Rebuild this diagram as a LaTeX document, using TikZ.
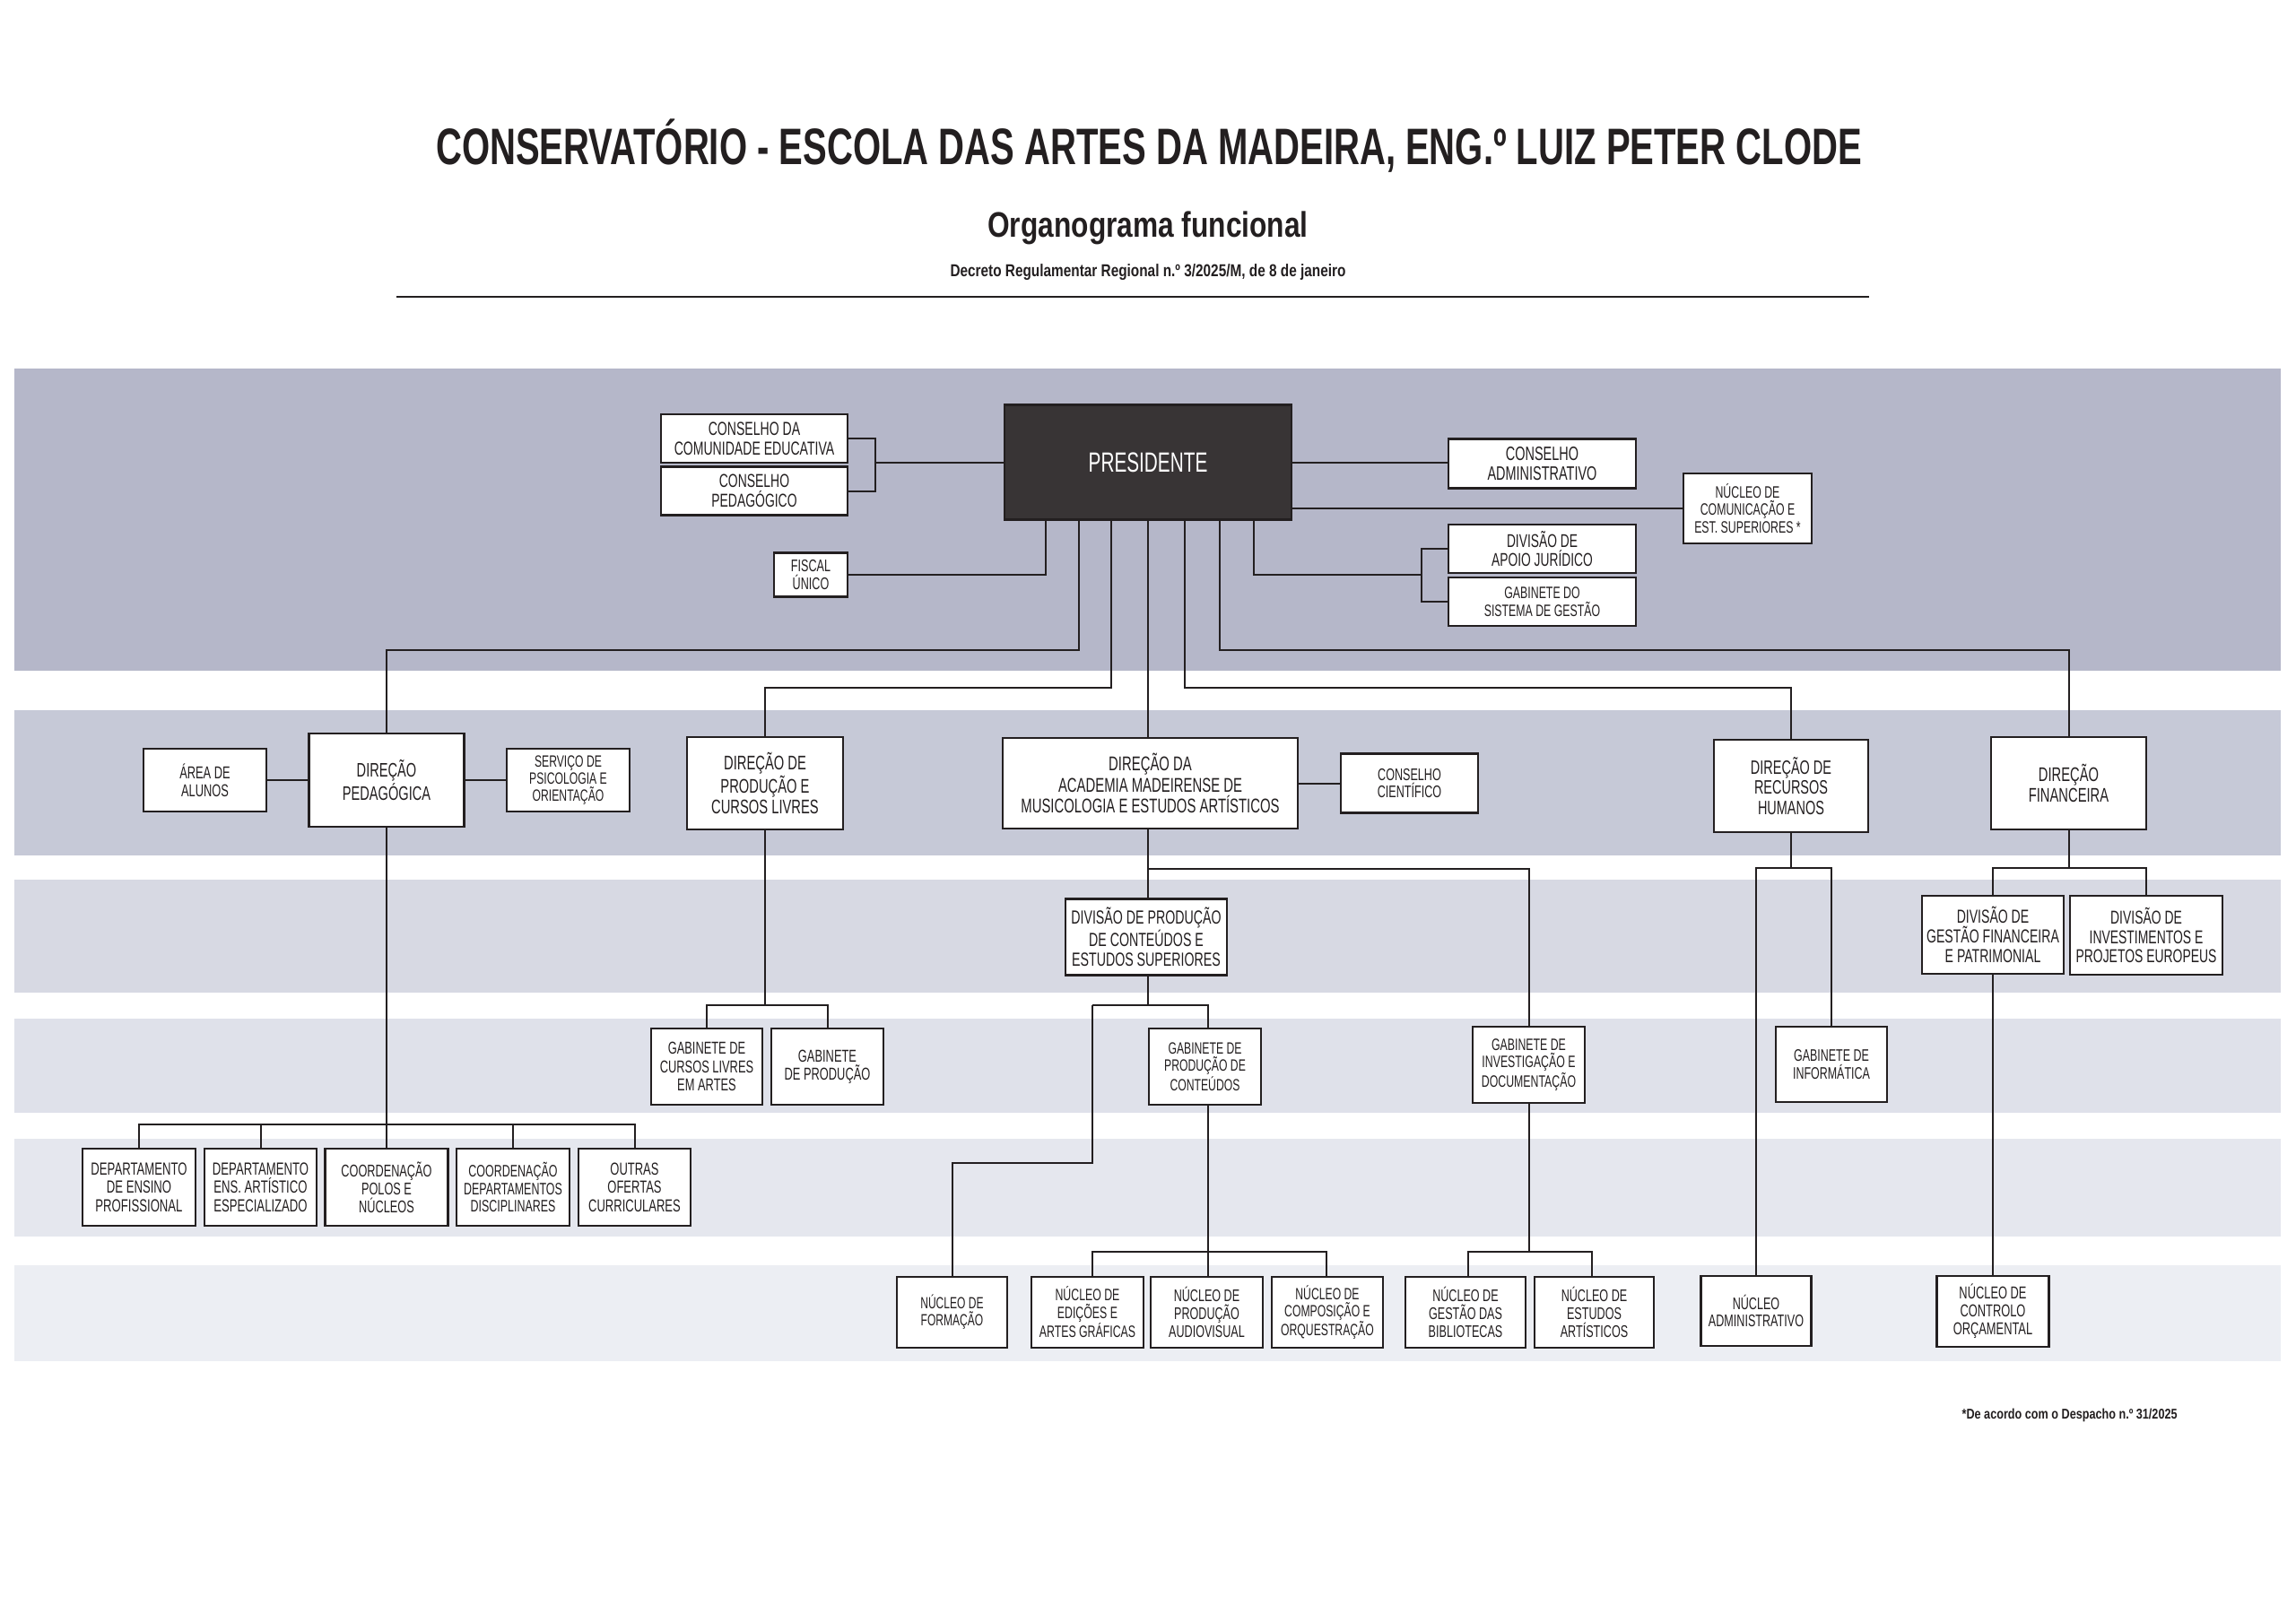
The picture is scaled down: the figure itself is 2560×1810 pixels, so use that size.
\documentclass[tikz,border=0pt]{standalone}
\usepackage{fontspec}
\setmainfont{Liberation Sans}
\newfontfamily\boxfont[FakeStretch=0.67]{Liberation Sans}
\newfontfamily\titlefont[FakeStretch=0.70]{Liberation Sans}
\newfontfamily\subfont[FakeStretch=0.80]{Liberation Sans}
\newcommand\bxf[1]{\boxfont\fontsize{#1}{#1}\selectfont\baselineskip=1.05\baselineskip}
\definecolor{lc}{HTML}{231F20}
\definecolor{presfill}{HTML}{383435}
\definecolor{bandA}{HTML}{B5B7C9}
\definecolor{bandB}{HTML}{C6C9D7}
\definecolor{bandC}{HTML}{D7D9E3}
\definecolor{bandD}{HTML}{DFE1EA}
\definecolor{bandE}{HTML}{E5E7EE}
\definecolor{bandF}{HTML}{ECEEF3}
\tikzset{
  box/.style={draw=lc, fill=white, line width=1.15pt, inner sep=0pt, align=center, text=lc},
  sz/.style 2 args={minimum width=#1*0.5pt, minimum height=#2*0.5pt},
  F/.style={font=\bxf{#1}},
  conn/.style={draw=lc, line width=1pt},
}
\begin{document}
\begin{tikzpicture}[x=0.5pt,y=-0.5pt]
\useasboundingbox (0,0) rectangle (2560,1810);
\fill[white] (0,0) rectangle (2560,1810);
% bands
\fill[bandA] (16,411) rectangle (2543,748);
\fill[bandB] (16,792) rectangle (2543,954);
\fill[bandC] (16,981) rectangle (2543,1107);
\fill[bandD] (16,1136) rectangle (2543,1241);
\fill[bandE] (16,1270) rectangle (2543,1379);
\fill[bandF] (16,1411) rectangle (2543,1518);
% titles
\node[anchor=base, inner sep=0pt, text=lc, font=\titlefont\bfseries\fontsize{28.6}{30}\selectfont] (title) at (1281,183) {CONSERVATÓRIO - ESCOLA DAS ARTES DA MADEIRA, ENG.º LUIZ PETER CLODE};
\node[anchor=base, inner sep=0pt, text=lc, font=\subfont\bfseries\fontsize{19.8}{22}\selectfont] (subtitle) at (1280,264) {Organograma funcional};
\node[anchor=base, inner sep=0pt, text=lc, font=\subfont\bfseries\fontsize{9.6}{11}\selectfont] (decree) at (1280,308) {Decreto Regulamentar Regional n.º 3/2025/M, de 8 de janeiro};
\coordinate (RL) at (442,331);
\coordinate (RR) at (2084,331);
\draw[draw=lc, line width=1pt] (RL) -- (RR);
\node[anchor=base east, inner sep=0pt, text=lc, font=\subfont\bfseries\fontsize{7.9}{9}\selectfont] (foot) at (2428,1582) {*De acordo com o Despacho n.º 31/2025};
% ---- band 1
\node[box, sz={320}{128}, fill=presfill, text=white, F=15.5] (pres) at (1280,515.5) {PRESIDENTE};
\node[box, sz={208}{54}, F=10.5] (cce) at (841,489) {CONSELHO DA\\COMUNIDADE EDUCATIVA};
\node[box, sz={208}{54}, F=10.4] (cp) at (841,547.5) {CONSELHO\\PEDAGÓGICO};
\node[box, sz={82}{49}, F=9.4] (fiscal) at (904,641) {FISCAL\\ÚNICO};
\node[box, sz={209}{55}, F=10.8] (ca) at (1719.5,517) {CONSELHO\\ADMINISTRATIVO};
\node[box, sz={143}{78}, F=9.2] (nce) at (1948.5,567) {NÚCLEO DE\\COMUNICAÇÃO E\\EST. SUPERIORES *};
\node[box, sz={209}{54}, F=10.3] (daj) at (1719.5,612) {DIVISÃO DE\\APOIO JURÍDICO};
\node[box, sz={209}{54}, F=9.2] (gsg) at (1719.5,671) {GABINETE DO\\SISTEMA DE GESTÃO};
% ---- band 2
\node[box, sz={137}{70}, F=9.6] (aa) at (228.5,870) {ÁREA DE\\ALUNOS};
\node[box, sz={173}{104}, F=10.9] (dped) at (431,870) {DIREÇÃO\\PEDAGÓGICA};
\node[box, sz={137}{70}, F=9.1] (spo) at (633.5,870) {SERVIÇO DE\\PSICOLOGIA E\\ORIENTAÇÃO};
\node[box, sz={173.5}{103}, F=11] (dpcl) at (853,873.5) {DIREÇÃO DE\\PRODUÇÃO E\\CURSOS LIVRES};
\node[box, sz={329}{101}, F=11.1] (dama) at (1282.5,873.5) {DIREÇÃO DA\\ACADEMIA MADEIRENSE DE\\MUSICOLOGIA E ESTUDOS ARTÍSTICOS};
\node[box, sz={153}{66}, F=9.4] (ccient) at (1571.5,873.5) {CONSELHO\\CIENTÍFICO};
\node[box, sz={172}{103}, F=10.8] (drh) at (1997,876.5) {DIREÇÃO DE\\RECURSOS\\HUMANOS};
\node[box, sz={173}{103}, F=11] (dfin) at (2306.5,873.5) {DIREÇÃO\\FINANCEIRA};
% ---- band 3
\node[box, sz={179.5}{85}, F=10.6] (dpces) at (1278,1045) {DIVISÃO DE PRODUÇÃO\\DE CONTEÚDOS E\\ESTUDOS SUPERIORES};
\node[box, sz={158}{87}, F=10.5] (dgfp) at (2222,1042.5) {DIVISÃO DE\\GESTÃO FINANCEIRA\\E PATRIMONIAL};
\node[box, sz={170}{88}, F=10.4] (dipe) at (2393,1043) {DIVISÃO DE\\INVESTIMENTOS E\\PROJETOS EUROPEUS};
% ---- band 4
\node[box, sz={124}{85}, F=9.6] (gcla) at (788,1189.5) {GABINETE DE\\CURSOS LIVRES\\EM ARTES};
\node[box, sz={125}{85}, F=9.6] (gprod) at (922.5,1189.5) {GABINETE\\DE PRODUÇÃO};
\node[box, sz={125}{85}, F=9.1] (gpc) at (1343.5,1189.5) {GABINETE DE\\PRODUÇÃO DE\\CONTEÚDOS};
\node[box, sz={125}{85}, F=9.2] (gid) at (1704.5,1187.5) {GABINETE DE\\INVESTIGAÇÃO E\\DOCUMENTAÇÃO};
\node[box, sz={124}{84}, F=9.3] (ginf) at (2042,1187) {GABINETE DE\\INFORMÁTICA};
% ---- band 5
\node[box, sz={126}{86}, F=9.8] (dep) at (155,1324) {DEPARTAMENTO\\DE ENSINO\\PROFISSIONAL};
\node[box, sz={125}{86}, F=9.8] (deae) at (290.5,1324) {DEPARTAMENTO\\ENS. ARTÍSTICO\\ESPECIALIZADO};
\node[box, sz={137}{86}, F=9.5] (cpn) at (431,1324) {COORDENAÇÃO\\POLOS E\\NÚCLEOS};
\node[box, sz={126}{86}, F=9.3] (cdd) at (572,1324) {COORDENAÇÃO\\DEPARTAMENTOS\\DISCIPLINARES};
\node[box, sz={125}{86}, F=9.7] (ooc) at (707.5,1324) {OUTRAS\\OFERTAS\\CURRICULARES};
% ---- band 6
\node[box, sz={123}{79}, F=9.0] (nf) at (1061.5,1463.5) {NÚCLEO DE\\FORMAÇÃO};
\node[box, sz={125}{79}, F=9.2] (neag) at (1212.5,1463.5) {NÚCLEO DE\\EDIÇÕES E\\ARTES GRÁFICAS};
\node[box, sz={125}{79}, F=9.4] (npa) at (1345.5,1463.5) {NÚCLEO DE\\PRODUÇÃO\\AUDIOVISUAL};
\node[box, sz={124}{79}, F=9.1] (nco) at (1480,1463.5) {NÚCLEO DE\\COMPOSIÇÃO E\\ORQUESTRAÇÃO};
\node[box, sz={134}{79}, F=9.4] (ngb) at (1634,1463.5) {NÚCLEO DE\\GESTÃO DAS\\BIBLIOTECAS};
\node[box, sz={133}{79}, F=9.4] (nea) at (1777.5,1463.5) {NÚCLEO DE\\ESTUDOS\\ARTÍSTICOS};
\node[box, sz={123}{78}, F=9.4] (nadm) at (1958,1462) {NÚCLEO\\ADMINISTRATIVO};
\node[box, sz={125}{79}, F=9.6] (nctl) at (2222,1462.5) {NÚCLEO DE\\CONTROLO\\ORÇAMENTAL};
% ---- helper coordinates
\coordinate (X1166) at (1166,0);
\coordinate (X1203) at (1203,0);
\coordinate (X1239) at (1239,0);
\coordinate (X1280) at (1280,0);
\coordinate (X1321) at (1321,0);
\coordinate (X1360) at (1360,0);
\coordinate (X1398) at (1398,0);
\coordinate (X1218) at (1218,0);
\coordinate (X1347) at (1347,0);
\coordinate (X1479) at (1479,0);
\coordinate (X1637) at (1637,0);
\coordinate (X1775) at (1775,0);
\coordinate (BR1) at (975.7,516);
\coordinate (BR2) at (1584.5,641);
\coordinate (YA) at (0,724.5);
\coordinate (YB) at (0,767);
\coordinate (YC) at (0,1254);
\coordinate (YD) at (0,1121);
\coordinate (YE) at (0,969);
\coordinate (YF) at (0,1297);
\coordinate (YG) at (0,1395.5);
\coordinate (YH) at (0,968);
% ---- connectors, band 1
\draw[conn] (cce.east) -| (BR1) |- (cp.east);
\draw[conn] (BR1) -- (BR1 -| pres.west);
\draw[conn] (fiscal.east) -| (pres.south -| X1166);
\draw[conn] (pres.south -| X1203) -- (X1203 |- YA) -| (dped.north);
\draw[conn] (pres.south -| X1239) -- (X1239 |- YB) -| (dpcl.north);
\draw[conn] (pres.south -| X1280) -- (X1280 |- dama.north);
\draw[conn] (pres.south -| X1321) -- (X1321 |- YB) -| (drh.north);
\draw[conn] (pres.south -| X1360) -- (X1360 |- YA) -| (dfin.north);
\draw[conn] (pres.south -| X1398) |- (BR2);
\draw[conn] (daj.west) -| (BR2) |- (gsg.west);
\draw[conn] (pres.east |- BR1) -- (ca.west |- BR1);
\draw[conn] (pres.east |- nce.west) -- (nce.west);
% band 2
\draw[conn] (aa.east) -- (dped.west);
\draw[conn] (dped.east) -- (spo.west);
\draw[conn] (dama.east) -- (ccient.west);
% pedagogica subtree
\draw[conn] (dped.south) -- (dped.south |- YC);
\draw[conn] (dep.north) |- (ooc.north |- YC) -- (ooc.north);
\draw[conn] (deae.north) -- (deae.north |- YC);
\draw[conn] (cpn.north) -- (cpn.north |- YC);
\draw[conn] (cdd.north) -- (cdd.north |- YC);
% producao e cursos livres
\draw[conn] (dpcl.south) -- (dpcl.south |- YD);
\draw[conn] (gcla.north) |- (gprod.north |- YD) -- (gprod.north);
% academia subtree
\draw[conn] (X1280 |- dama.south) -- (X1280 |- dpces.north);
\draw[conn] (X1280 |- YE) -| (gid.north);
\draw[conn] (X1280 |- dpces.south) -- (X1280 |- YD);
\draw[conn] (X1218 |- YD) -- (X1347 |- YD) -- (X1347 |- gpc.north);
\draw[conn] (X1218 |- YD) -- (X1218 |- YF) -| (nf.north);
\draw[conn] (X1347 |- gpc.south) -- (X1347 |- YG);
\draw[conn] (X1218 |- neag.north) |- (X1479 |- YG) -- (X1479 |- nco.north);
\draw[conn] (X1347 |- YG) -- (X1347 |- npa.north);
\draw[conn] (gid.south) -- (gid.south |- YG);
\draw[conn] (X1637 |- ngb.north) |- (X1775 |- YG) -- (X1775 |- nea.north);
% recursos humanos
\draw[conn] (drh.south) -- (drh.south |- YH);
\draw[conn] (nadm.north) |- (ginf.north |- YH) -- (ginf.north);
% financeira
\draw[conn] (dfin.south) -- (dfin.south |- YH);
\draw[conn] (dgfp.north) |- (dipe.north |- YH) -- (dipe.north);
\draw[conn] (dgfp.south) -- (nctl.north);
\end{tikzpicture}
\end{document}
